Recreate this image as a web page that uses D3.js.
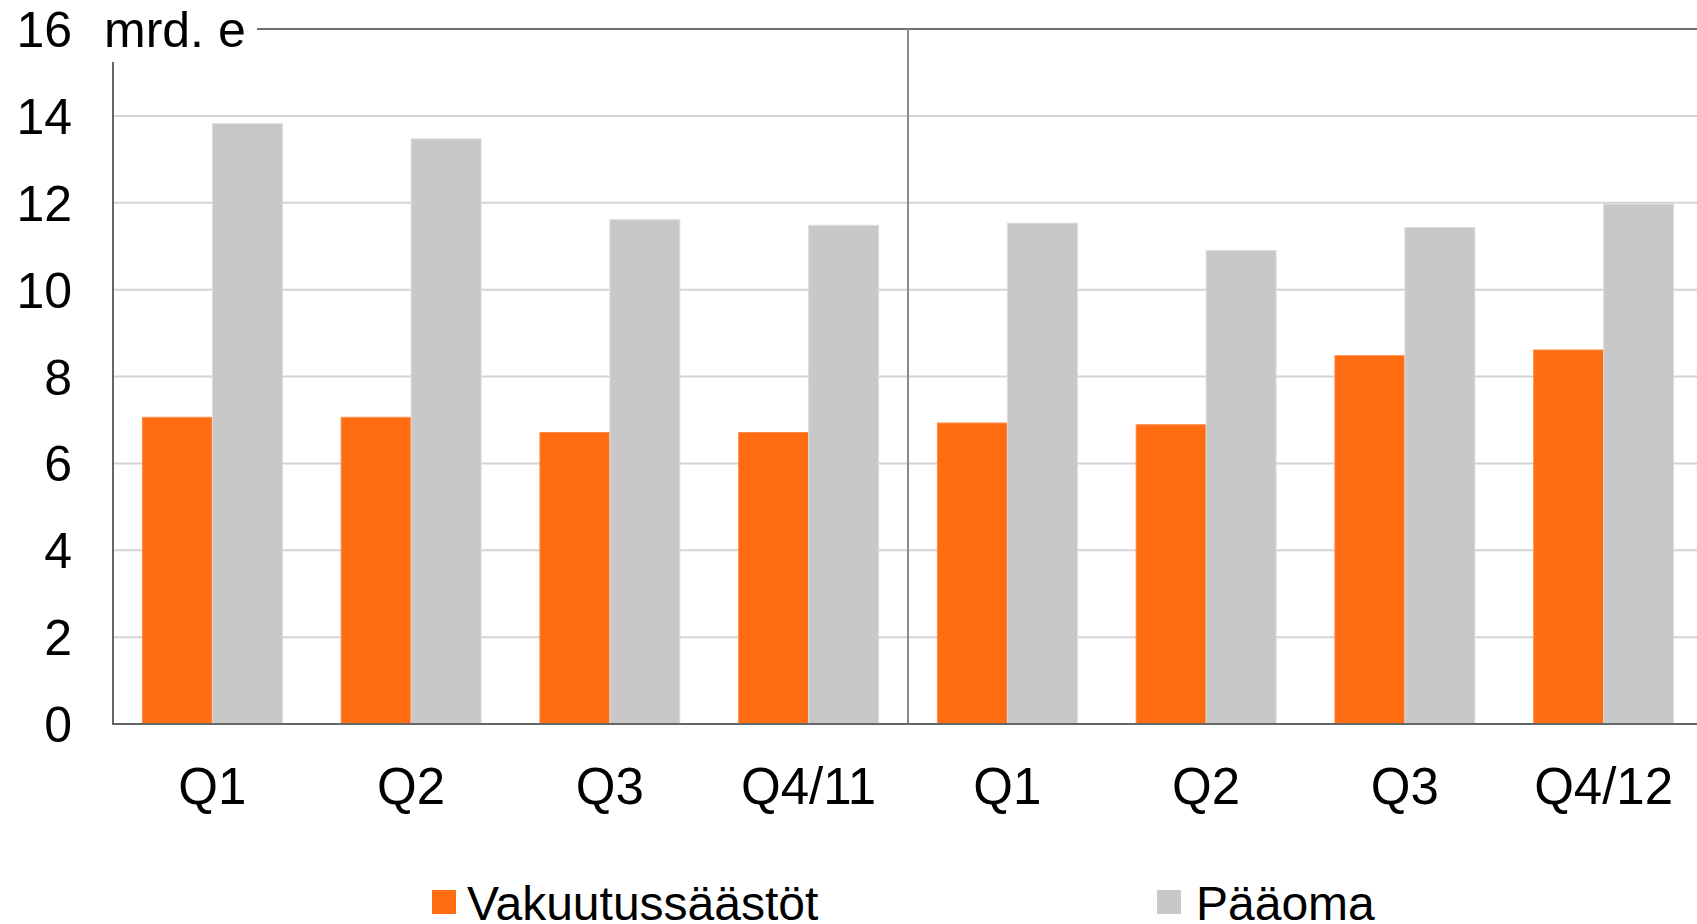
<!DOCTYPE html>
<html>
<head>
<meta charset="utf-8">
<script src="https://cdn.jsdelivr.net/npm/d3@7"></script>
<style>
  html, body { margin: 0; padding: 0; background: #ffffff; overflow: hidden; }
  svg { display: block; font-family: "Liberation Sans", Arial, sans-serif; }
</style>
</head>
<body>
<svg id="chart" width="1697" height="924"></svg>
<script>
// ---- data ----
const categories = ["Q1", "Q2", "Q3", "Q4/11", "Q1", "Q2", "Q3", "Q4/12"];
const vakuutussaastot = [7.06, 7.06, 6.71, 6.71, 6.93, 6.89, 8.48, 8.61];
const paaoma = [13.82, 13.47, 11.61, 11.48, 11.53, 10.90, 11.43, 11.97];
const seriesNames = ["Vakuutussäästöt", "Pääoma"];
const seriesColors = ["#FF6C12", "#C8C8C8"];
const yTicks = [0, 2, 4, 6, 8, 10, 12, 14, 16];
const unitLabel = "mrd. e";

(function () {
// ---- layout ----
const svg = d3.select("#chart");
const plotLeft = 113, plotRight = 1703, plotTop = 29, plotBottom = 724;

const x = d3.scaleBand()
  .domain(d3.range(categories.length))
  .range([plotLeft, plotRight])
  .paddingInner(0.296)
  .paddingOuter(0.148);

const xs = d3.scaleBand()
  .domain([0, 1])
  .range([0, x.bandwidth()]);

const y = d3.scaleLinear().domain([0, 16]).range([plotBottom, plotTop]);

// gridlines (light)
svg.append("g")
  .selectAll("line")
  .data(yTicks.filter(t => t > 0 && t < 16))
  .join("line")
  .attr("x1", plotLeft).attr("x2", 1697)
  .attr("y1", d => y(d)).attr("y2", d => y(d))
  .attr("stroke", "#D4D4D4").attr("stroke-width", 2);

// top line (after unit label)
svg.append("line")
  .attr("x1", 257).attr("x2", 1697)
  .attr("y1", y(16)).attr("y2", y(16))
  .attr("stroke", "#707070").attr("stroke-width", 2);

// year divider
const divX = plotLeft + x.step() * 4;
svg.append("line")
  .attr("x1", divX).attr("x2", divX)
  .attr("y1", y(16)).attr("y2", y(0))
  .attr("stroke", "#8A8A8A").attr("stroke-width", 2);

// bars
const data = categories.map((c, i) => ({ i, values: [vakuutussaastot[i], paaoma[i]] }));
const groups = svg.append("g").selectAll("g")
  .data(data)
  .join("g")
  .attr("transform", d => `translate(${x(d.i)},0)`);

groups.selectAll("rect")
  .data(d => d.values.map((v, k) => ({ k, v })))
  .join("rect")
  .attr("x", d => xs(d.k))
  .attr("width", xs.bandwidth())
  .attr("y", d => y(d.v))
  .attr("height", d => y(0) - y(d.v))
  .attr("fill", d => seriesColors[d.k])
  .attr("stroke", d => d.k === 0 ? "#FF8A45" : "#DCDCDC")
  .attr("stroke-width", 1);

// y axis line
svg.append("line")
  .attr("x1", plotLeft).attr("x2", plotLeft)
  .attr("y1", 62).attr("y2", y(0))
  .attr("stroke", "#666666").attr("stroke-width", 2);

// baseline
svg.append("line")
  .attr("x1", plotLeft - 1).attr("x2", 1697)
  .attr("y1", y(0)).attr("y2", y(0))
  .attr("stroke", "#666666").attr("stroke-width", 2);

// y axis ticks
const yAxis = d3.axisLeft(y).tickValues(yTicks).tickSize(0).tickPadding(41).tickFormat(d3.format("d"));
const gy = svg.append("g").attr("transform", `translate(${plotLeft},0)`).call(yAxis);
gy.select(".domain").remove();
gy.selectAll("text")
  .attr("font-size", 50)
  .attr("font-family", "Liberation Sans, Arial, sans-serif")
  .attr("fill", "#000")
  .attr("dy", "0.35em");

// unit label
svg.append("text")
  .attr("x", 104).attr("y", y(16) + 18)
  .attr("font-size", 50)
  .attr("fill", "#000")
  .text(unitLabel);

// x axis labels
const xAxis = d3.axisBottom(x).tickSize(0).tickPadding(44).tickFormat(i => categories[i]);
const gx = svg.append("g").attr("transform", `translate(0,${plotBottom})`).call(xAxis);
gx.select(".domain").remove();
gx.selectAll("text")
  .attr("font-size", 51)
  .attr("font-family", "Liberation Sans, Arial, sans-serif")
  .attr("fill", "#000");

// legend
const legendX = [432, 1157];
const legend = svg.append("g").selectAll("g")
  .data(seriesNames)
  .join("g")
  .attr("transform", (d, i) => `translate(${legendX[i]},890)`);
legend.append("rect")
  .attr("width", 24).attr("height", 24)
  .attr("fill", (d, i) => seriesColors[i]);
legend.append("text")
  .attr("x", (d, i) => i === 0 ? 35 : 39)
  .attr("y", 30)
  .attr("font-size", 48)
  .attr("fill", "#000")
  .text(d => d);
})();
</script>
</body>
</html>
